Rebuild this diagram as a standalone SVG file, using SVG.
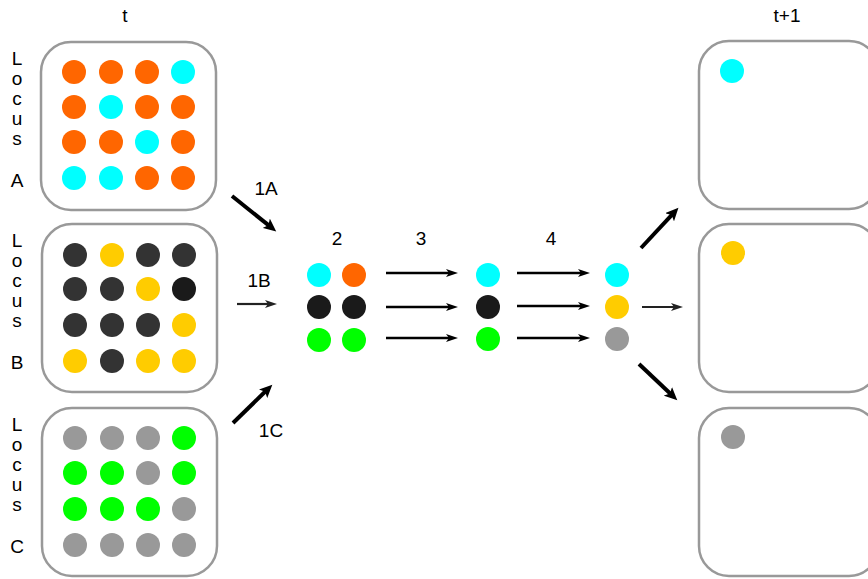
<svg xmlns="http://www.w3.org/2000/svg" width="868" height="579" viewBox="0 0 868 579">
  <style>
    text { font-family: "Liberation Sans", Arial, sans-serif; font-size: 19px; fill: #000; text-anchor: middle; }
    .box { fill: #fff; stroke: #999; stroke-width: 2.5; }
    .o { fill: #FF6600; }
    .c { fill: #00FFFF; }
    .d { fill: #333333; }
    .k { fill: #1A1A1A; }
    .y { fill: #FFCC00; }
    .g { fill: #999999; }
    .n { fill: #00FF00; }
    .thick { stroke: #000; stroke-width: 4; fill: none; marker-end: url(#headBig); }
    .mid { stroke: #000; stroke-width: 2.5; fill: none; marker-end: url(#headSmall); }
    .thin { stroke: #222; stroke-width: 2.2; fill: none; marker-end: url(#headThin); }
  </style>
  <defs>
    <marker id="headBig" markerUnits="userSpaceOnUse" markerWidth="14" markerHeight="12" refX="5" refY="6" orient="auto">
      <path d="M0,0 L13,6 L0,12 L3,6 z" fill="#000"/>
    </marker>
    <marker id="headSmall" markerUnits="userSpaceOnUse" markerWidth="12" markerHeight="8" refX="4" refY="4" orient="auto">
      <path d="M0,0 L12,4 L0,8 L3,4 z" fill="#000"/>
    </marker>
    <marker id="headThin" markerUnits="userSpaceOnUse" markerWidth="12" markerHeight="8" refX="4" refY="4" orient="auto">
      <path d="M0,0 L12,4 L0,8 L3,4 z" fill="#222"/>
    </marker>
  </defs>

  <!-- column headings -->
  <text x="125" y="22">t</text>
  <text x="787" y="22">t+1</text>

  <!-- locus A population -->
  <g id="locusA">
    <text x="17" y="65">L</text><text x="17" y="85">o</text><text x="17" y="105">c</text>
    <text x="17" y="125">u</text><text x="17" y="145">s</text><text x="17" y="187">A</text>
    <rect class="box" x="41" y="42" width="175" height="168" rx="30"/>
    <circle class="o" cx="74" cy="72" r="12"/><circle class="o" cx="111" cy="72" r="12"/><circle class="o" cx="147" cy="72" r="12"/><circle class="c" cx="183" cy="72" r="12"/>
    <circle class="o" cx="74" cy="107" r="12"/><circle class="c" cx="111" cy="107" r="12"/><circle class="o" cx="147" cy="107" r="12"/><circle class="o" cx="183" cy="107" r="12"/>
    <circle class="o" cx="74" cy="142" r="12"/><circle class="o" cx="111" cy="142" r="12"/><circle class="c" cx="147" cy="142" r="12"/><circle class="o" cx="183" cy="142" r="12"/>
    <circle class="c" cx="74" cy="178" r="12"/><circle class="c" cx="111" cy="178" r="12"/><circle class="o" cx="147" cy="178" r="12"/><circle class="o" cx="183" cy="178" r="12"/>
  </g>

  <!-- locus B population -->
  <g id="locusB">
    <text x="17" y="247">L</text><text x="17" y="267">o</text><text x="17" y="287">c</text>
    <text x="17" y="307">u</text><text x="17" y="327">s</text><text x="17" y="369">B</text>
    <rect class="box" x="42" y="224" width="175" height="168" rx="30"/>
    <circle class="d" cx="75" cy="255" r="12"/><circle class="y" cx="112" cy="255" r="12"/><circle class="d" cx="148" cy="255" r="12"/><circle class="d" cx="184" cy="255" r="12"/>
    <circle class="d" cx="75" cy="289" r="12"/><circle class="d" cx="112" cy="289" r="12"/><circle class="y" cx="148" cy="289" r="12"/><circle class="k" cx="184" cy="289" r="12"/>
    <circle class="d" cx="75" cy="325" r="12"/><circle class="d" cx="112" cy="325" r="12"/><circle class="d" cx="148" cy="325" r="12"/><circle class="y" cx="184" cy="325" r="12"/>
    <circle class="y" cx="75" cy="361" r="12"/><circle class="d" cx="112" cy="361" r="12"/><circle class="y" cx="148" cy="361" r="12"/><circle class="y" cx="184" cy="361" r="12"/>
  </g>

  <!-- locus C population -->
  <g id="locusC">
    <text x="17" y="431">L</text><text x="17" y="451">o</text><text x="17" y="471">c</text>
    <text x="17" y="491">u</text><text x="17" y="511">s</text><text x="17" y="553">C</text>
    <rect class="box" x="42" y="408" width="175" height="168" rx="30"/>
    <circle class="g" cx="75" cy="438" r="12"/><circle class="g" cx="112" cy="438" r="12"/><circle class="g" cx="148" cy="438" r="12"/><circle class="n" cx="184" cy="438" r="12"/>
    <circle class="n" cx="75" cy="473" r="12"/><circle class="n" cx="112" cy="473" r="12"/><circle class="g" cx="148" cy="473" r="12"/><circle class="n" cx="184" cy="473" r="12"/>
    <circle class="n" cx="75" cy="509" r="12"/><circle class="n" cx="112" cy="509" r="12"/><circle class="n" cx="148" cy="509" r="12"/><circle class="g" cx="184" cy="509" r="12"/>
    <circle class="g" cx="75" cy="545" r="12"/><circle class="g" cx="112" cy="545" r="12"/><circle class="g" cx="148" cy="545" r="12"/><circle class="g" cx="184" cy="545" r="12"/>
  </g>

  <!-- step 2: sampled pairs -->
  <g id="step2">
    <text x="337" y="245">2</text>
    <circle class="c" cx="319" cy="275" r="12"/><circle class="o" cx="354" cy="275" r="12"/>
    <circle class="k" cx="319" cy="307" r="12"/><circle class="k" cx="354" cy="307" r="12"/>
    <circle class="n" cx="319" cy="340" r="12"/><circle class="n" cx="354" cy="340" r="12"/>
  </g>

  <!-- step 3: one allele per locus -->
  <g id="step3">
    <circle class="c" cx="488" cy="275" r="12"/>
    <circle class="k" cx="488" cy="307" r="12"/>
    <circle class="n" cx="488" cy="339" r="12"/>
  </g>

  <!-- step 4: resulting alleles -->
  <g id="step4">
    <circle class="c" cx="617" cy="275" r="12"/>
    <circle class="y" cx="617" cy="307" r="12"/>
    <circle class="g" cx="617" cy="339" r="12"/>
  </g>

  <!-- next generation -->
  <g id="nextA">
    <rect class="box" x="699" y="41" width="180" height="168" rx="30"/>
    <circle class="c" cx="732" cy="71" r="12"/>
  </g>
  <g id="nextB">
    <rect class="box" x="699" y="224" width="180" height="168" rx="30"/>
    <circle class="y" cx="733" cy="253" r="12"/>
  </g>
  <g id="nextC">
    <rect class="box" x="699" y="408" width="180" height="168" rx="30"/>
    <circle class="g" cx="733" cy="437" r="12"/>
  </g>

  <!-- connectors -->
  <g id="connectors">
    <text x="266" y="195">1A</text>
    <text x="259" y="287">1B</text>
    <text x="271" y="437">1C</text>
    <text x="421" y="245">3</text>
    <text x="551" y="245">4</text>
    <line class="thick" x1="232" y1="196" x2="270" y2="226.4"/>
    <line class="thin" x1="237" y1="304" x2="269" y2="304"/>
    <line class="thick" x1="233" y1="423" x2="266.6" y2="390.3"/>
    <line class="mid" x1="386" y1="273" x2="450" y2="273"/>
    <line class="mid" x1="386" y1="307" x2="450" y2="307"/>
    <line class="mid" x1="386" y1="338" x2="450" y2="338"/>
    <line class="mid" x1="517" y1="273" x2="582" y2="273"/>
    <line class="mid" x1="517" y1="306" x2="582" y2="306"/>
    <line class="mid" x1="517" y1="338" x2="582" y2="338"/>
    <line class="thick" x1="641" y1="248" x2="673" y2="213.6"/>
    <line class="thin" x1="642" y1="307" x2="675" y2="307"/>
    <line class="thick" x1="639" y1="364" x2="671.5" y2="394.8"/>
  </g>
</svg>
